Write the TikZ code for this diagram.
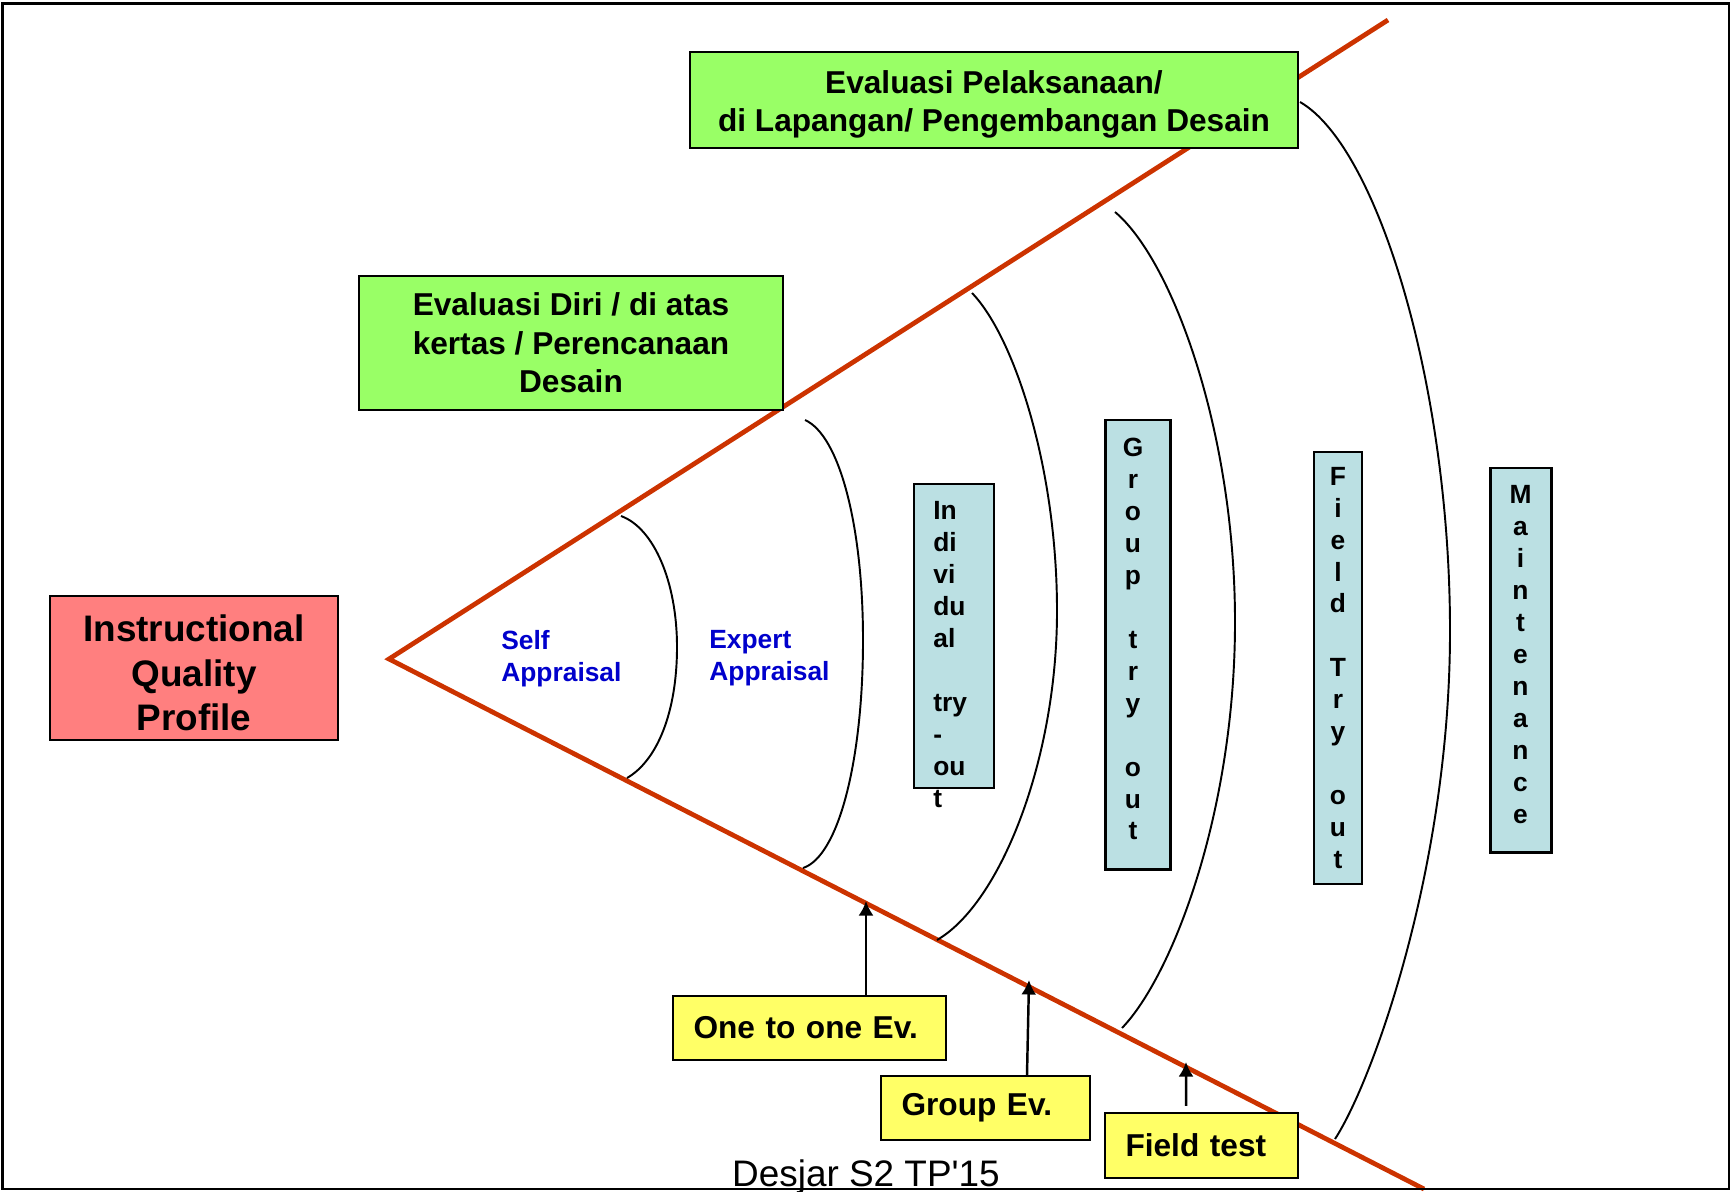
\documentclass[tikz,border=0pt]{standalone}
\usepackage{fontspec}
\setmainfont{Liberation Sans}
\usetikzlibrary{calc, arrows.meta}

\definecolor{conered}{HTML}{CC3300}
\definecolor{profilepink}{HTML}{FF7F7F}
\definecolor{plangreen}{HTML}{99FF66}
\definecolor{trycyan}{HTML}{BBE0E3}
\definecolor{evyellow}{HTML}{FFFF66}
\definecolor{appraisalblue}{HTML}{0000CC}

\begin{document}
\begin{tikzpicture}[
		box/.style={draw=black, line width=1.4pt, align=center, inner sep=0pt},
		profilebox/.style={box, fill=profilepink},
		profiletext/.style={inner sep=0pt, align=center, font=\fontsize{21}{25.4}\selectfont\bfseries},
		planbox/.style={box, fill=plangreen, font=\fontsize{18}{21.9}\selectfont\bfseries},
		evbox/.style={box, fill=evyellow, align=left, inner xsep=0.41cm, font=\fontsize{18}{21.9}\selectfont\bfseries},
		letters/.style={inner sep=0pt, align=center, font=\fontsize{15}{18.2}\selectfont\bfseries},
		trybox/.style={box, letters, fill=trycyan},
		appraisal/.style={inner sep=0pt, align=left, text=appraisalblue, font=\fontsize{15}{18.2}\selectfont\bfseries},
		cone/.style={conered, line width=2.7pt},
		arcline/.style={black, line width=1.1pt},
		pointer/.style={-{Latex[length=0.29cm, width=0.3cm]}, line width=1.4pt}
	]
		\useasboundingbox (0,0) rectangle (34.62,-23.82);

		% Cone of evaluation
		\coordinate (apex) at (7.78,-13.18);
		\coordinate (upend) at (27.76,-0.40);
		\coordinate (lowend) at (28.48,-23.78);
		\draw[cone] (upend) -- (apex) -- (lowend);

		% Arcs between the stages
		\draw[arcline] (12.42,-10.32) to[out=-20, in=90, out distance=0.7cm, in distance=1.3cm] (13.54,-12.94)
			to[out=-90, in=30, out distance=1.3cm, in distance=0.7cm] (12.54,-15.56);
		\draw[arcline] (16.1,-8.4) to[out=-24, in=90, out distance=0.75cm, in distance=2.3cm] (17.26,-12.8)
			to[out=-90, in=18, out distance=2.4cm, in distance=0.75cm] (16.06,-17.36);
		\draw[arcline] (19.44,-5.86) to[out=-46, in=90, out distance=1.2cm, in distance=2.9cm] (21.14,-12.22)
			to[out=-90, in=30, out distance=3.0cm, in distance=1.45cm] (18.74,-18.8);
		\draw[arcline] (22.3,-4.24) to[out=-40, in=90, out distance=1.5cm, in distance=3.8cm] (24.7,-12.44)
			to[out=-90, in=46, out distance=3.8cm, in distance=1.45cm] (22.44,-20.56);
		\draw[arcline] (26.0,-2.04) to[out=-30, in=90, out distance=1.8cm, in distance=4.9cm] (29.0,-12.62)
			to[out=-90, in=57, out distance=4.7cm, in distance=1.4cm] (26.7,-22.78);

		% Main labels
		\node[profilebox, minimum width=5.76cm, minimum height=2.88cm] (profile) at (3.88,-13.36) {};
		\node[profiletext] (profiletxt) at (3.88,-13.46) {Instructional\\Quality\\Profile};
		\node[planbox, minimum width=8.48cm, minimum height=2.68cm] (selfeval) at (11.42,-6.86) {Evaluasi Diri / di atas\\kertas / Perencanaan\\Desain};
		\node[planbox, minimum width=12.16cm, minimum height=1.92cm] (fieldeval) at (19.88,-2.0) {};
		\node[planbox, draw=none, fill=none] (fieldevaltxt) at (19.88,-2.09) {Evaluasi Pelaksanaan/\\di Lapangan/ Pengembangan Desain};

		\node[appraisal, anchor=west] (self) at (10.02,-13.17) {Self\\Appraisal};
		\node[appraisal, anchor=west] (expert) at (14.18,-13.17) {Expert\\Appraisal};

		% Try-out stages
		\node[trybox, line width=1.1pt, minimum width=1.6cm, minimum height=6.08cm] (indiv) at (19.08,-12.72) {};
		\node[letters, anchor=north west, align=left] (indivtxt) at (18.66,-10.03) {In\\di\\vi\\du\\al\\[18.2pt]try\\-\\ou\\t};
		\node[trybox, line width=1.7pt, minimum width=1.3cm, minimum height=8.98cm] (grouptry) at (22.75,-12.89) {};
		\node[letters] (grouptrytxt) at (22.66,-12.78) {G\\r\\o\\u\\p\\[18.2pt]t\\r\\y\\[18.2pt]o\\u\\t};
		\node[trybox, line width=1.1pt, minimum width=0.96cm, minimum height=8.64cm] (fieldtry) at (26.76,-13.36) {F\\i\\e\\l\\d\\[18.2pt]T\\r\\y\\[18.2pt]o\\u\\t};
		\node[trybox, line width=1.7pt, minimum width=1.22cm, minimum height=7.68cm] (maint) at (30.41,-13.2) {};
		\node[letters] (mainttxt) at (30.41,-13.09) {M\\a\\i\\n\\t\\e\\n\\a\\n\\c\\e};

		% Evaluation types
		\node[evbox, text width=4.64cm, minimum height=1.28cm] (onetoone) at (16.19,-20.56) {One to one Ev.};
		\node[evbox, text width=3.36cm, minimum height=1.28cm] (groupev) at (19.71,-22.16) {Group Ev.};
		\node[evbox, text width=3.04cm, minimum height=1.3cm] (fieldtest) at (24.03,-22.91) {Field test};

		\coordinate (onetip) at (17.32,-18.02);
		\coordinate (grouptip) at (20.58,-19.6);
		\coordinate (fieldtip) at (23.72,-21.24);
		\draw[pointer] (onetoone.north -| onetip) -- (onetip);
		\draw[pointer] ($(groupev.north)+(0.83,0)$) -- (grouptip);
		\draw[pointer] ($(fieldtest.north)+(-0.31,0.12)$) -- (fieldtip);

		\node[font=\fontsize{21}{25}\selectfont] (footer) at (17.32,-23.54) {Desjar S2 TP\textquotesingle15};

		% Frame
		\draw[line width=1.2pt] (0.05,-0.07) rectangle (34.58,-23.78);
	\end{tikzpicture}
\end{document}
